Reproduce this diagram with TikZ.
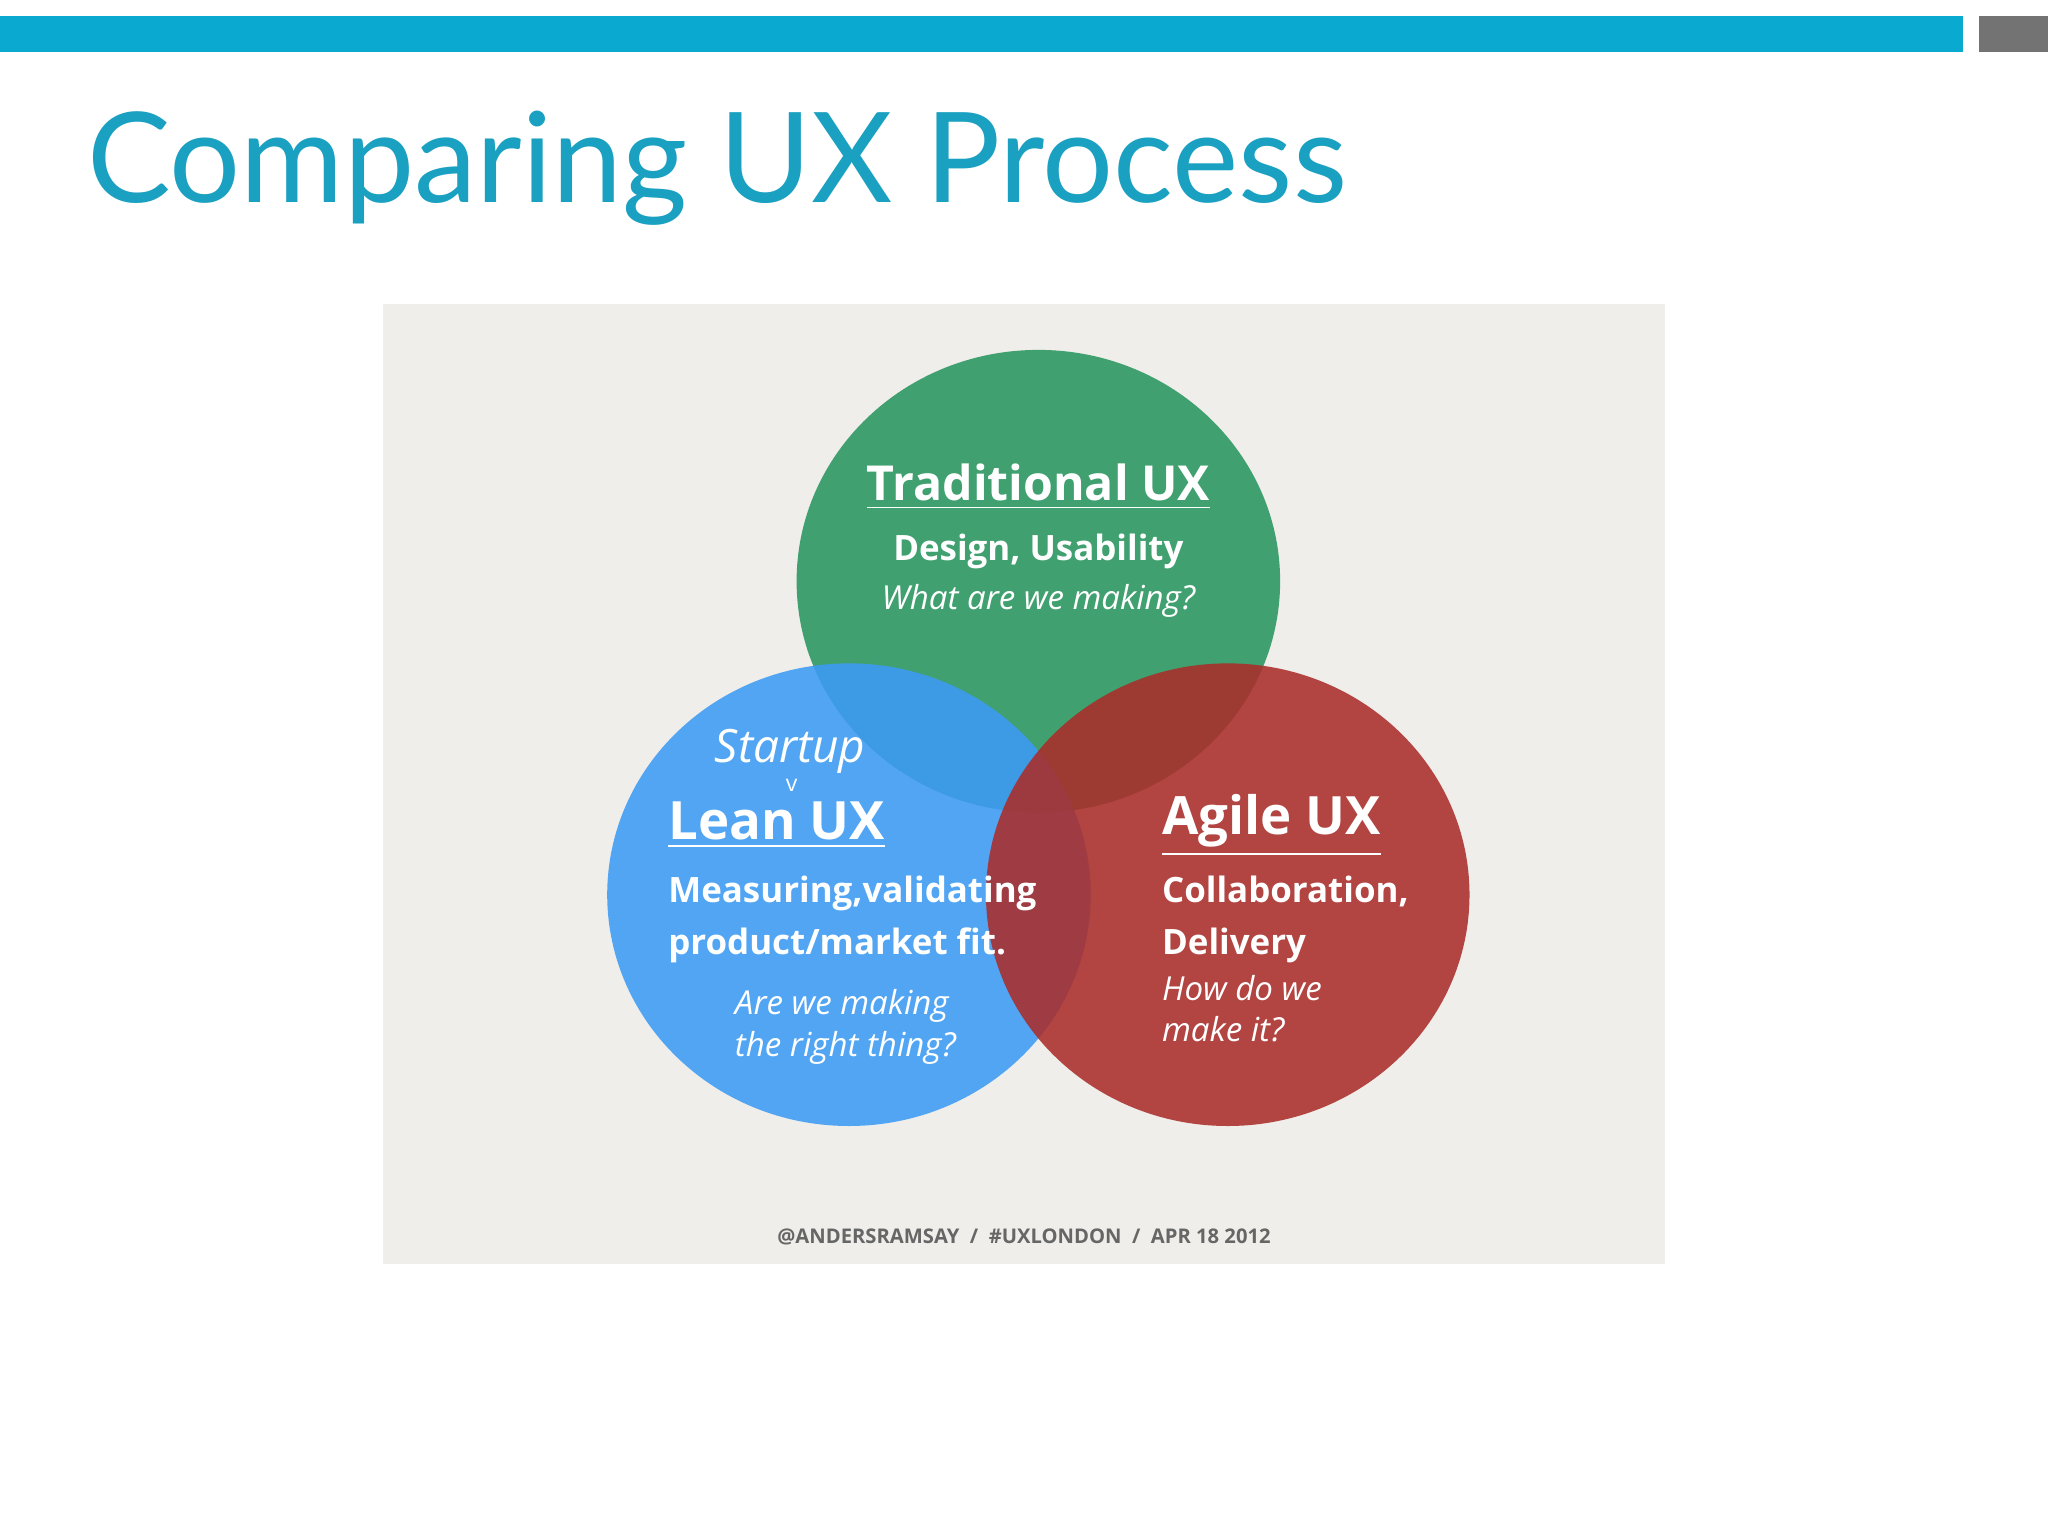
\documentclass[tikz,border=0pt]{standalone}
\usepackage{fontspec}
\usetikzlibrary{shapes.geometric}
\setmainfont{Open Sans}
\newfontfamily\latofont{Lato}
\begin{document}
\begin{tikzpicture}[x=0.01cm,y=-0.01cm,
  circ/.style={ellipse,minimum width=3.7cm,minimum height=3.54cm,inner sep=0,fill opacity=0.88},
  lbl/.style={text=white,inner sep=0,font=\fontsize{7.6}{11.3}\selectfont\bfseries,align=left},
  ital/.style={text=white,inner sep=0,font=\fontsize{7.2}{9}\selectfont\itshape,align=left},
  head/.style={text=white,inner sep=0,font=\fontsize{10.5}{12}\selectfont\bfseries}]
\useasboundingbox (0,0) rectangle (1568,1176);
\fill[white] (0,0) rectangle (1568,1176);
\fill[fill={rgb,255:red,10;green,170;blue,208}] (0,12) rectangle (1503,40);
\fill[gray!90!black] (1515,12) rectangle (1568,40);
\node[anchor=base west,inner sep=0,text={rgb,255:red,26;green,160;blue,192},font=\latofont\fontsize{27.3}{32}\selectfont] (title) at (66,155) {Comparing UX Process};
\fill[fill={rgb,255:red,239;green,238;blue,234}] (293,233) rectangle (1275,968);
\node[circ,fill={rgb,255:red,40;green,150;blue,95}] (g) at (795,445) {};
\node[circ,fill={rgb,255:red,60;green,155;blue,245}] (b) at (650,685) {};
\node[circ,fill={rgb,255:red,170;green,45;blue,42}] (r) at (940,685) {};
\node[head] (t1) at (795,373) {\underline{Traditional UX}};
\node[lbl] (t2) at (795,422) {Design, Usability};
\node[ital] (t3) at (795,460) {What are we making?};
\node[ital,font=\fontsize{10}{12}\selectfont\itshape] (s) at (605,575) {Startup};
\node[text=white,inner sep=0,font=\fontsize{5}{5}\selectfont] (v) at (606,601) {v};
\node[head,anchor=west,font=\fontsize{11.5}{14}\selectfont\bfseries] (l1) at (511,632) {\underline{Lean UX}};
\node[lbl,anchor=north west] (l2) at (511,670) {Measuring,validating\\product/market fit.};
\node[ital,anchor=north west] (l3) at (562,757) {Are we making\\the right thing?};
\node[head,anchor=west,font=\fontsize{11.5}{14}\selectfont\bfseries] (a1) at (889,632) {\underline{Agile UX}};
\node[lbl,anchor=north west] (a2) at (889,670) {Collaboration,\\Delivery};
\node[ital,anchor=north west] (a3) at (889,746) {How do we\\make it?};
\node[inner sep=0,text=gray!80!black,font=\fontsize{4.4}{5}\selectfont\bfseries] (cr) at (784,947) {@ANDERSRAMSAY \ / \ \#UXLONDON \ / \ APR 18 2012};
\end{tikzpicture}
\end{document}
